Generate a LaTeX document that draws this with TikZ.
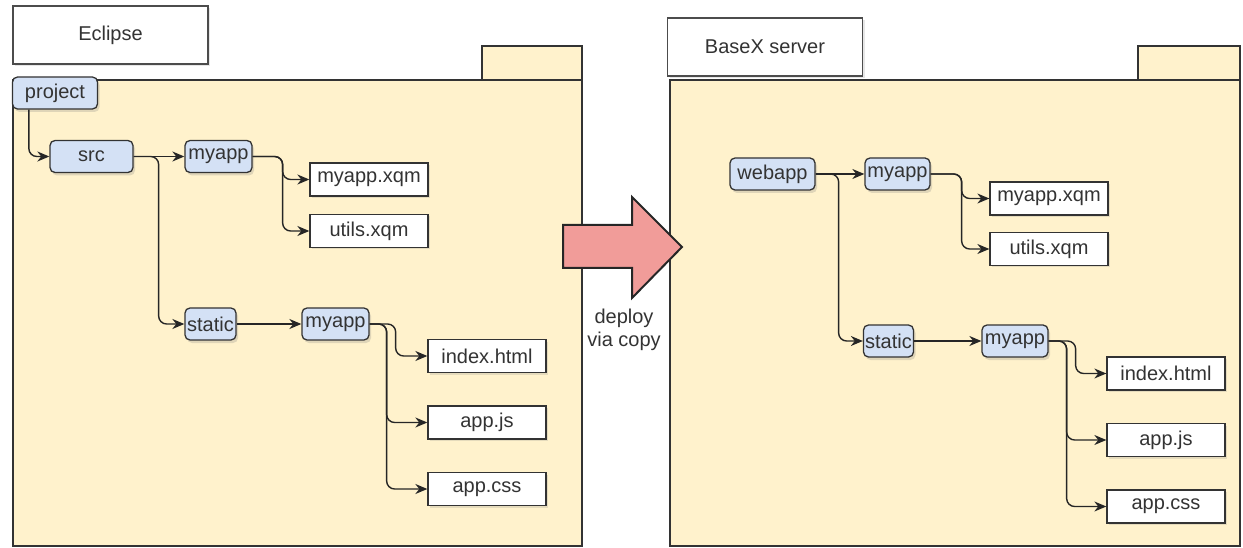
\documentclass[tikz,border=0pt]{standalone}
\usepackage{fontspec}
\setmainfont{Liberation Sans}
\usetikzlibrary{arrows.meta,shadows}
\definecolor{dirblue}{HTML}{D4E1F5}
\definecolor{pkgyellow}{HTML}{FFF2CC}
\definecolor{deployred}{HTML}{F19C99}
\definecolor{inkgray}{HTML}{333333}
\tikzset{
  dir/.style={draw=black!80, fill=dirblue, rounded corners=5pt, line width=1.3pt, minimum height=32pt, inner sep=1pt, drop shadow={shadow xshift=2pt, shadow yshift=-3pt, opacity=.25}},
  fil/.style={draw=black!80, fill=white, line width=1.3pt, minimum width=118pt, minimum height=33pt, inner sep=1pt, drop shadow={shadow xshift=2pt, shadow yshift=-2pt, opacity=.2}},
  lbl/.style={draw=black!70, fill=white, line width=1.3pt, minimum width=195pt, minimum height=58pt, drop shadow={shadow xshift=2pt, shadow yshift=-2pt, opacity=.2}},
  pkg/.style={draw=black!80, fill=pkgyellow, line width=1.3pt},
  lnk/.style={draw=black!85, -{Stealth[length=12pt,width=10pt]}, line width=1.4pt, rounded corners=8pt},
}
\begin{document}
\begin{tikzpicture}[x=1pt, y=-1pt, font=\fontsize{20}{23}\selectfont, text=inkgray]
\useasboundingbox (0,0) rectangle (1243,548);
\draw[pkg] (482,46) rectangle (582,80);
\draw[pkg] (13,80) rectangle (582,546);
\draw[pkg] (1138,46) rectangle (1240,80);
\draw[pkg] (670,80) rectangle (1240,546);
\node[lbl] (eclipse) at (110.5,35) {Eclipse};
\node[lbl] (basex) at (765,47) {BaseX server};
\node[dir, minimum width=85pt] (lid0) at (55,93) {project};
\node[dir, minimum width=83pt] (lid1) at (91.5,156.5) {src};
\draw[lnk] ([xshift=17pt]lid0.south west) |- (lid1);
\node[dir, minimum width=67pt] (lid2) at (218.5,156.5) {myapp};
\node[fil] (lid3) at (369,179.5) {myapp.xqm};
\node[fil] (lid4) at (369,231) {utils.xqm};
\draw[lnk] (lid2.east) -- ++(30,0) |- (lid3);
\draw[lnk] (lid2.east) -- ++(30,0) |- (lid4);
\node[dir, minimum width=51pt] (lid5) at (210.5,324) {static};
\node[dir, minimum width=67pt] (lid6) at (335.5,324) {myapp};
\draw[lnk] (lid5) -- (lid6);
\node[fil] (lid7) at (487,356) {index.html};
\node[fil] (lid8) at (487,422.5) {app.js};
\node[fil] (lid9) at (487,489) {app.css};
\draw[lnk] (lid6.east) -- ++(26,0) |- (lid7);
\draw[lnk] (lid6.east) -- ++(17,0) |- (lid8);
\draw[lnk] (lid6.east) -- ++(17,0) |- (lid9);
\draw[lnk] (lid1) -- (lid2);
\draw[lnk] (lid1.east) -- ++(25,0) |- (lid5);
\node[dir, minimum width=85pt] (rid0) at (772.5,174) {webapp};
\node[dir, minimum width=65pt] (rid1) at (897.5,174) {myapp};
\node[fil] (rid2) at (1049,198.5) {myapp.xqm};
\node[fil] (rid3) at (1049,249) {utils.xqm};
\draw[lnk] (rid1.east) -- ++(31,0) |- (rid2);
\draw[lnk] (rid1.east) -- ++(31,0) |- (rid3);
\node[dir, minimum width=50pt] (rid4) at (888.5,341) {static};
\node[dir, minimum width=66pt] (rid5) at (1015,341) {myapp};
\draw[lnk] (rid4) -- (rid5);
\node[fil] (rid6) at (1166,373.5) {index.html};
\node[fil] (rid7) at (1166,440) {app.js};
\node[fil] (rid8) at (1166,506.5) {app.css};
\draw[lnk] (rid5.east) -- ++(27,0) |- (rid6);
\draw[lnk] (rid5.east) -- ++(18,0) |- (rid7);
\draw[lnk] (rid5.east) -- ++(18,0) |- (rid8);
\draw[lnk] (rid0) -- (rid1);
\draw[lnk] (rid0.east) -- ++(23,0) |- (rid4);
\draw[fill=deployred, draw=black!85, line width=2pt] (563,225) -- (632,225) -- (632,197) -- (682,247) -- (632,298) -- (632,268) -- (563,268) -- cycle;
\node[align=center] (deploy) at (624,330) {deploy\\via copy};
\end{tikzpicture}
\end{document}
